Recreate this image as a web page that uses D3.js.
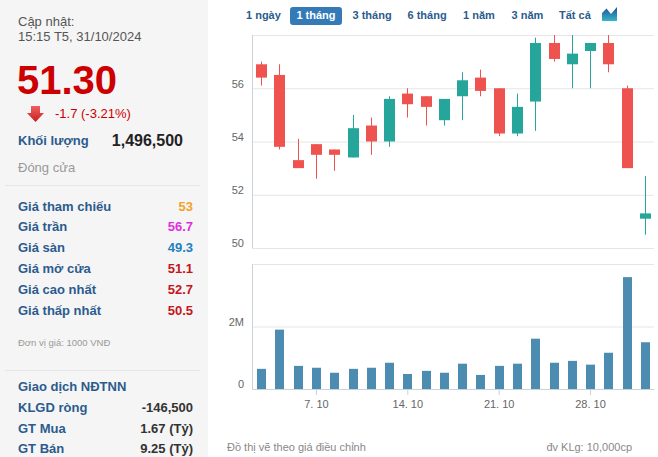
<!DOCTYPE html>
<html>
<head>
<meta charset="utf-8">
<script src="https://cdn.jsdelivr.net/npm/d3@7"></script>
<style>
  body { margin: 0; background: #fff; }
  svg { display: block; font-family: "Liberation Sans", Arial, sans-serif; }
</style>
</head>
<body>
<svg id="chart" width="658" height="457"></svg>
<script>
// trading days of October 2024
var days   = [2, 3, 4, 7, 8, 9, 10, 11, 14, 15, 16, 17, 18, 21, 22, 23, 24, 25, 28, 29, 30, 31];
var opens  = [56.9, 56.5, 53.3, 53.9, 53.7, 53.4, 54.6, 54.0, 55.8, 55.7, 54.8, 55.7, 56.4, 56.0, 54.3, 55.5, 57.7, 56.9, 57.4, 57.7, 56.0, 51.1];
var highs  = [57.0, 56.9, 54.1, 53.9, 53.7, 55.0, 54.9, 55.7, 56.0, 55.7, 55.6, 56.6, 56.7, 56.0, 55.8, 57.9, 58.2, 58.2, 57.7, 58.2, 56.1, 52.7];
var lows   = [56.1, 53.7, 53.0, 52.6, 52.9, 53.4, 53.5, 53.8, 54.9, 54.6, 54.6, 54.8, 55.7, 54.2, 54.2, 54.4, 57.0, 56.0, 56.0, 56.6, 53.0, 50.5];
var closes = [56.4, 53.8, 53.0, 53.5, 53.5, 54.5, 54.0, 55.6, 55.4, 55.3, 55.6, 56.3, 55.9, 54.3, 55.3, 57.7, 57.1, 57.3, 57.7, 56.9, 53.0, 51.3];
// volume in millions of shares
var volumes = [0.645, 1.90, 0.74, 0.68, 0.52, 0.645, 0.68, 0.84, 0.48, 0.58, 0.52, 0.81, 0.45, 0.74, 0.81, 1.61, 0.84, 0.90, 0.78, 1.16, 3.58, 1.4965];

var priceTicks = [50, 52, 54, 56, 58];
var volTicks = [0, 2, 4];
var weekTicks = [7, 14, 21, 28];
var ranges = ["1 ngày", "1 tháng", "3 tháng", "6 tháng", "1 năm", "3 năm", "Tất cả"];

var priceRows = [
    ["Giá tham chiếu", "53", "#f5a02a"],
    ["Giá trần", "56.7", "#e22ee2"],
    ["Giá sàn", "49.3", "#1f80bd"],
    ["Giá mở cửa", "51.1", "#c4161c"],
    ["Giá cao nhất", "52.7", "#c4161c"],
    ["Giá thấp nhất", "50.5", "#c4161c"]
];
var foreignRows = [
    ["KLGD ròng", "-146,500"],
    ["GT Mua", "1.67 (Tỷ)"],
    ["GT Bán", "9.25 (Tỷ)"]
];

var svg = d3.select("#chart");
var blue = "#2c5b8e";

function label(x, y, str, size, weight, fill, anchor) {
    return svg.append("text")
        .attr("x", x).attr("y", y)
        .attr("font-size", size + "px")
        .attr("font-weight", weight || "normal")
        .attr("fill", fill)
        .attr("text-anchor", anchor || "start")
        .text(str);
}

// ---- left info panel
svg.append("rect").attr("x", 0).attr("y", 0).attr("width", 208).attr("height", 457).attr("fill", "#f5f5f5");

label(18, 26, "Cập nhật:", 13, null, "#555");
label(18, 40.5, "15:15 T5, 31/10/2024", 13, null, "#555");
label(17, 94, "51.30", 40, "bold", "#cc0000");

var defs = svg.append("defs");
var ag = defs.append("linearGradient").attr("id", "arrowGrad").attr("x1", 0).attr("y1", 0).attr("x2", 0).attr("y2", 1);
ag.append("stop").attr("offset", "0%").attr("stop-color", "#f06060");
ag.append("stop").attr("offset", "100%").attr("stop-color", "#c81e1e");
svg.append("path")
    .attr("d", "M31,106 L40,106 L40,113 L44,113 L35.5,122 L27,113 L31,113 Z")
    .attr("fill", "url(#arrowGrad)");
label(55, 117.5, "-1.7 (-3.21%)", 13, null, "#cc0000");

label(18, 144.5, "Khối lượng", 13, "bold", blue);
label(183, 146, "1,496,500", 16, "bold", "#222", "end");
label(18, 171.5, "Đóng cửa", 13, null, "#999");

svg.append("line").attr("x1", 5).attr("x2", 200).attr("y1", 185.5).attr("y2", 185.5).attr("stroke", "#e6e6e6");

priceRows.forEach(function(r, i) {
    var y = 210.5 + i * 20.9;
    label(18, y, r[0], 13, "bold", blue);
    label(193, y, r[1], 13, "bold", r[2], "end");
});
label(18, 345.5, "Đơn vị giá: 1000 VNĐ", 9.5, null, "#999");

svg.append("line").attr("x1", 5).attr("x2", 200).attr("y1", 370.5).attr("y2", 370.5).attr("stroke", "#e6e6e6");
label(18, 391, "Giao dịch NĐTNN", 13, "bold", blue);
foreignRows.forEach(function(r, i) {
    var y = 412 + i * 20.7;
    label(18, y, r[0], 13, "bold", blue);
    label(193, y, r[1], 13, "bold", "#333", "end");
});

// ---- range buttons
var btnX = [246, 290, 352.5, 407.5, 463, 511.5, 559];
var sel = svg.append("g");
ranges.forEach(function(r, i) {
    if (i === 1) {
        sel.append("rect").attr("x", 290).attr("y", 7).attr("width", 52).attr("height", 18).attr("rx", 3).attr("fill", "#337ab7");
        sel.append("text").attr("x", 316).attr("y", 19).attr("text-anchor", "middle")
            .attr("font-size", "11px").attr("font-weight", "bold").attr("fill", "#fff").text(r);
    } else {
        sel.append("text").attr("x", btnX[i]).attr("y", 19)
            .attr("font-size", "11px").attr("font-weight", "bold").attr("fill", blue).text(r);
    }
});
var ig = defs.append("linearGradient").attr("id", "iconGrad").attr("x1", 0).attr("y1", 0).attr("x2", 0).attr("y2", 1);
ig.append("stop").attr("offset", "0%").attr("stop-color", "#1f4f9a");
ig.append("stop").attr("offset", "100%").attr("stop-color", "#38b6c8");
svg.append("path")
    .attr("d", "M602,21 L602,13 L606.5,8.5 L611,14 L617,7 L617,21 Z")
    .attr("fill", "url(#iconGrad)");

// ---- charts
var plotL = 252, plotR = 654;
var pTop = 35, pBot = 248, vTop = 264, vBot = 389;

var x = d3.scalePoint().domain(days).range([plotL, plotR]).padding(0.5);
var yP = d3.scaleLinear().domain([50, 58]).range([pBot, pTop]);
var yV = d3.scaleLinear().domain([0, 4]).range([vBot, vTop]);

function styleAxis(g) {
    g.select(".domain").remove();
    g.selectAll(".tick line").attr("stroke", "#e6e6e6");
    g.selectAll(".tick text").attr("fill", "#666").attr("font-size", "11px").attr("dy", "-0.1em");
}

svg.append("g")
    .attr("transform", "translate(" + plotL + ",0)")
    .call(d3.axisLeft(yP).tickValues(priceTicks).tickSize(-(plotR - plotL)).tickPadding(8)
        .tickFormat(function(d) { return d === 58 ? "" : d; }))
    .call(styleAxis);

svg.append("g")
    .attr("transform", "translate(" + plotL + ",0)")
    .call(d3.axisLeft(yV).tickValues(volTicks).tickSize(-(plotR - plotL)).tickPadding(8)
        .tickFormat(function(d) { return d === 4 ? "" : d === 0 ? "0" : d + "M"; }))
    .call(styleAxis);

svg.append("line").attr("x1", plotL + 0.5).attr("x2", plotL + 0.5).attr("y1", pTop).attr("y2", pBot).attr("stroke", "#ccd1d9");
svg.append("line").attr("x1", plotL + 0.5).attr("x2", plotL + 0.5).attr("y1", vTop).attr("y2", vBot).attr("stroke", "#ccd1d9");

var xAxis = svg.append("g")
    .attr("transform", "translate(0," + vBot + ")")
    .call(d3.axisBottom(x).tickValues(weekTicks).tickSizeInner(6).tickSizeOuter(0).tickPadding(5)
        .tickFormat(function(d) { return d + ". 10"; }));
xAxis.select(".domain").attr("stroke", "#ccd1d9");
xAxis.selectAll(".tick line").attr("stroke", "#ccd1d9");
xAxis.selectAll(".tick text").attr("fill", "#666").attr("font-size", "11px");

defs.append("clipPath").attr("id", "priceClip")
    .append("rect").attr("x", plotL).attr("y", pTop).attr("width", plotR - plotL).attr("height", pBot - pTop);

var up = "#26a69a", down = "#ef5350";
var candles = svg.append("g").attr("clip-path", "url(#priceClip)")
    .selectAll("g")
    .data(days)
    .enter()
    .append("g");

candles.append("line")
    .attr("x1", function(d) { return Math.round(x(d)) + 0.5; })
    .attr("x2", function(d) { return Math.round(x(d)) + 0.5; })
    .attr("y1", function(d, i) { return yP(highs[i]); })
    .attr("y2", function(d, i) { return yP(lows[i]); })
    .attr("stroke", function(d, i) { return closes[i] >= opens[i] ? up : down; });

candles.append("rect")
    .attr("x", function(d) { return Math.round(x(d)) - 5; })
    .attr("width", 11)
    .attr("y", function(d, i) { return yP(Math.max(opens[i], closes[i])); })
    .attr("height", function(d, i) { return Math.max(1, Math.abs(yP(opens[i]) - yP(closes[i]))); })
    .attr("fill", function(d, i) { return closes[i] >= opens[i] ? up : down; });

svg.append("g")
    .selectAll("rect")
    .data(days)
    .enter()
    .append("rect")
    .attr("x", function(d) { return Math.round(x(d)) - 4; })
    .attr("width", 9)
    .attr("y", function(d, i) { return yV(volumes[i]); })
    .attr("height", function(d, i) { return vBot - yV(volumes[i]); })
    .attr("fill", "#4d8cb1");

label(227, 451, "Đồ thị vẽ theo giá điều chỉnh", 11, null, "#888");
label(632, 451, "đv KLg: 10,000cp", 11, null, "#888", "end");
</script>
</body>
</html>
